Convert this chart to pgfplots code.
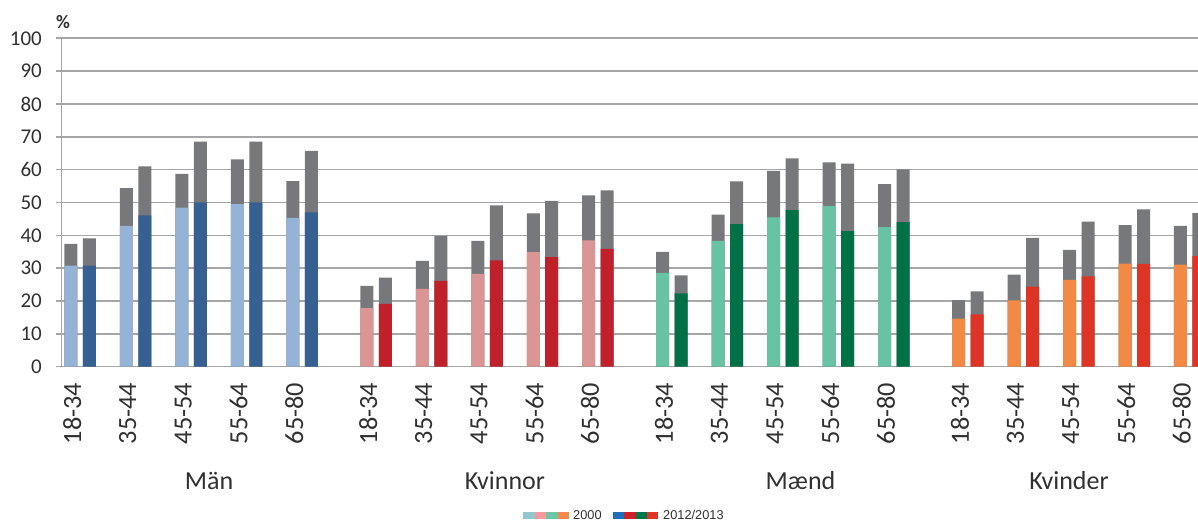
\documentclass[border=0pt]{standalone}
\usepackage{pgfplots}
\pgfplotsset{compat=1.18}
\usepackage{pgfplotstable}
\usepackage{fontspec}
\setmainfont{Carlito}
\newfontfamily\legfont{Liberation Sans}
\definecolor{gridgray}{HTML}{A6A6A8}
\definecolor{labgray}{HTML}{303030}
\definecolor{topgray}{HTML}{77787B}
\definecolor{mA}{HTML}{95B3D7}
\definecolor{mB}{HTML}{366092}
\definecolor{kA}{HTML}{DA9694}
\definecolor{kB}{HTML}{C0202A}
\definecolor{dA}{HTML}{68C3A4}
\definecolor{dB}{HTML}{007046}
\definecolor{vA}{HTML}{F28A46}
\definecolor{vB}{HTML}{DE3426}
\definecolor{lA1}{HTML}{93C6CF}
\definecolor{lA2}{HTML}{F59A9C}
\definecolor{lA3}{HTML}{6CC5A3}
\definecolor{lA4}{HTML}{F48A4A}
\definecolor{lB1}{HTML}{1F6EBA}
\definecolor{lB2}{HTML}{CE2029}
\definecolor{lB3}{HTML}{00784A}
\definecolor{lB4}{HTML}{E13426}

% totals (colored part + gray part), one row per bar
\pgfplotstableread{
x total
0 37.4
1 39.1
3 54.4
4 61.0
6 58.7
7 68.5
9 63.1
10 68.5
12 56.5
13 65.7
16 24.6
17 27.1
19 32.2
20 39.8
22 38.3
23 49.1
25 46.7
26 50.5
28 52.2
29 53.7
32 35.0
33 27.8
35 46.3
36 56.4
38 59.6
39 63.4
41 62.2
42 61.8
44 55.6
45 60.1
48 20.3
49 22.9
51 28.0
52 39.2
54 35.6
55 44.2
57 43.1
58 47.9
60 42.9
61 46.8
}\totals

\pgfplotstableread{
x y
0 30.8
3 42.9
6 48.4
9 49.5
12 45.3
}\manA
\pgfplotstableread{
x y
1 30.8
4 46.1
7 50.0
10 50.0
13 47.0
}\manB
\pgfplotstableread{
x y
16 17.8
19 23.7
22 28.3
25 34.9
28 38.5
}\kvA
\pgfplotstableread{
x y
17 19.1
20 26.1
23 32.4
26 33.4
29 35.9
}\kvB
\pgfplotstableread{
x y
32 28.6
35 38.3
38 45.5
41 48.9
44 42.5
}\maA
\pgfplotstableread{
x y
33 22.3
36 43.4
39 47.7
42 41.3
45 44.0
}\maB
\pgfplotstableread{
x y
48 14.6
51 20.2
54 26.4
57 31.4
60 31.1
}\kdA
\pgfplotstableread{
x y
49 15.9
52 24.4
55 27.5
58 31.3
61 33.7
}\kdB

\begin{document}
\begin{tikzpicture}[x=1pt,y=1pt]
\useasboundingbox (0,0) rectangle (1198,521);
\begin{axis}[
  at={(61.7pt,154.3pt)}, anchor=south west,
  scale only axis, width=1136.3pt, height=328.4pt,
  xmin=-0.5, xmax=60.95, ymin=0, ymax=100,
  ytick={0,10,...,100},
  ymajorgrids, grid style={line width=1.6pt, gridgray},
  axis x line*=bottom, axis y line*=left,
  axis line style={line width=1.6pt, gridgray, -},
  tick align=outside, major tick length=6pt,
  ytick style={line width=1.6pt, gridgray},
  xtick style={draw=none},
  xtick={0.07,3.07,6.07,9.07,12.07,16.07,19.07,22.07,25.07,28.07,32.07,35.07,38.07,41.07,44.07,48.07,51.07,54.07,57.07,60.07},
  xticklabels={18-34,35-44,45-54,55-64,65-80,18-34,35-44,45-54,55-64,65-80,18-34,35-44,45-54,55-64,65-80,18-34,35-44,45-54,55-64,65-80},
  xticklabel style={yshift=-10pt, rotate=90, anchor=east, inner sep=0pt, font=\fontsize{26.3}{27}\selectfont, text=labgray},
  yticklabel style={anchor=east, inner sep=0pt, xshift=-13.7pt, font=\fontsize{21}{22}\selectfont, text=labgray},
  /pgf/number format/assume math mode=true,
  ybar, bar width=13pt, bar shift=0pt,
  clip mode=individual,
]
\addplot[fill=topgray, draw=none] table[x=x, y=total] {\totals};
\addplot[fill=mA, draw=none] table {\manA};
\addplot[fill=mB, draw=none] table {\manB};
\addplot[fill=kA, draw=none] table {\kvA};
\addplot[fill=kB, draw=none] table {\kvB};
\addplot[fill=dA, draw=none] table {\maA};
\addplot[fill=dB, draw=none] table {\maB};
\addplot[fill=vA, draw=none] table {\kdA};
\addplot[fill=vB, draw=none] table {\kdB};
\end{axis}
% percent sign
\node[anchor=base, inner sep=0pt, text=labgray, font=\bfseries\fontsize{19}{20}\selectfont] at (63,492.7) {\%};
% group labels
\begin{scope}[every node/.style={anchor=base, inner sep=0pt, text=labgray, font=\fontsize{26}{28}\selectfont}]
\node at (209,31) {Män};
\node at (505,31) {Kvinnor};
\node at (800.5,31) {Mænd};
\node at (1069,31) {Kvinder};
\end{scope}
% legend
\fill[lA1] (523,1.7) rectangle ++(11.5,7.6);
\fill[lA2] (534.5,1.7) rectangle ++(11.5,7.6);
\fill[lA3] (546,1.7) rectangle ++(11.5,7.6);
\fill[lA4] (557.5,1.7) rectangle ++(11.5,7.6);
\node[anchor=base west, inner sep=0pt, text=labgray, font=\legfont\fontsize{12.8}{13}\selectfont] at (573,1.7) {2000};
\fill[lB1] (613,1.7) rectangle ++(11.25,7.6);
\fill[lB2] (624.25,1.7) rectangle ++(11.25,7.6);
\fill[lB3] (635.5,1.7) rectangle ++(11.25,7.6);
\fill[lB4] (646.75,1.7) rectangle ++(11.25,7.6);
\node[anchor=base west, inner sep=0pt, text=labgray, font=\legfont\fontsize{12.8}{13}\selectfont] at (663,1.7) {2012/2013};
\end{tikzpicture}
\end{document}
